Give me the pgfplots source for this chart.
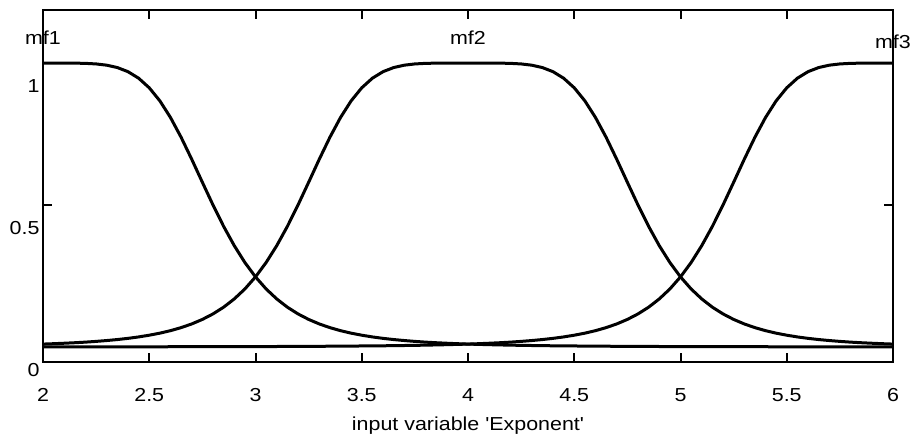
\documentclass[border=0pt]{standalone}
\usepackage{fontspec}
\setmainfont{Liberation Sans}
\usepackage{pgfplots}
\pgfplotsset{compat=1.18}
\newcommand\sx[1]{\scalebox{1.14}[1]{#1}}
\newcommand\lfont{\fontsize{18.8}{20}\selectfont}
\begin{document}
\begin{tikzpicture}
\begin{axis}[name=ax,
  scale only axis, width=850pt, height=352pt,
  xmin=2, xmax=6, ymin=-0.053, ymax=1.187,
  clip=false,
  axis line style={line width=2.8pt, black},
  xtick={2,2.5,3,3.5,4,4.5,5,5.5,6},
  xticklabels={\sx{2},\sx{2.5},\sx{3},\sx{3.5},\sx{4},\sx{4.5},\sx{5},\sx{5.5},\sx{6}},
  ytick={0,0.5,1},
  yticklabels={\sx{0},\sx{0.5},\sx{1}},
  tick align=inside, major tick length=9pt,
  every tick/.style={line width=2pt, black},
  every tick label/.append style={font=\lfont},
  xticklabel style={yshift=-23pt},
  yticklabel style={yshift=-23pt},
  xlabel={\sx{input variable \textquotesingle Exponent\textquotesingle}},
  xlabel style={font=\lfont, at={(axis description cs:0.5,0)}, anchor=center, yshift=-64pt},
]
\addplot[black, line width=3pt] coordinates {(2.00,1.0000)(2.05,1.0000)(2.10,1.0000)(2.15,0.9998)(2.20,0.9990)(2.25,0.9970)(2.30,0.9926)(2.35,0.9842)(2.40,0.9697)(2.45,0.9467)(2.50,0.9129)(2.55,0.8669)(2.60,0.8082)(2.65,0.7385)(2.70,0.6610)(2.75,0.5800)(2.80,0.5000)(2.85,0.4248)(2.90,0.3569)(2.95,0.2975)(3.00,0.2468)(3.05,0.2043)(3.10,0.1691)(3.15,0.1401)(3.20,0.1164)(3.25,0.0970)(3.30,0.0811)(3.35,0.0681)(3.40,0.0574)(3.45,0.0486)(3.50,0.0414)(3.55,0.0353)(3.60,0.0303)(3.65,0.0261)(3.70,0.0226)(3.75,0.0196)(3.80,0.0170)(3.85,0.0149)(3.90,0.0131)(3.95,0.0115)(4.00,0.0101)(4.10,0.0080)(4.20,0.0063)(4.30,0.0051)(4.40,0.0041)(4.60,0.0028)(4.80,0.0019)(5.00,0.0013)(5.50,0.0006)(6.00,0.0003)};
\addplot[black, line width=3pt] coordinates {(2.00,0.0101)(2.05,0.0115)(2.10,0.0131)(2.15,0.0149)(2.20,0.0170)(2.25,0.0196)(2.30,0.0226)(2.35,0.0261)(2.40,0.0303)(2.45,0.0353)(2.50,0.0414)(2.55,0.0486)(2.60,0.0574)(2.65,0.0681)(2.70,0.0811)(2.75,0.0970)(2.80,0.1164)(2.85,0.1401)(2.90,0.1691)(2.95,0.2043)(3.00,0.2468)(3.05,0.2975)(3.10,0.3569)(3.15,0.4248)(3.20,0.5000)(3.25,0.5800)(3.30,0.6610)(3.35,0.7385)(3.40,0.8082)(3.45,0.8669)(3.50,0.9129)(3.55,0.9467)(3.60,0.9697)(3.65,0.9842)(3.70,0.9926)(3.75,0.9970)(3.80,0.9990)(3.85,0.9998)(3.90,1.0000)(3.95,1.0000)(4.00,1.0000)(4.05,1.0000)(4.10,1.0000)(4.15,0.9998)(4.20,0.9990)(4.25,0.9970)(4.30,0.9926)(4.35,0.9842)(4.40,0.9697)(4.45,0.9467)(4.50,0.9129)(4.55,0.8669)(4.60,0.8082)(4.65,0.7385)(4.70,0.6610)(4.75,0.5800)(4.80,0.5000)(4.85,0.4248)(4.90,0.3569)(4.95,0.2975)(5.00,0.2468)(5.05,0.2043)(5.10,0.1691)(5.15,0.1401)(5.20,0.1164)(5.25,0.0970)(5.30,0.0811)(5.35,0.0681)(5.40,0.0574)(5.45,0.0486)(5.50,0.0414)(5.55,0.0353)(5.60,0.0303)(5.65,0.0261)(5.70,0.0226)(5.75,0.0196)(5.80,0.0170)(5.85,0.0149)(5.90,0.0131)(5.95,0.0115)(6.00,0.0101)};
\addplot[black, line width=3pt] coordinates {(2.00,0.0003)(2.50,0.0006)(3.00,0.0013)(3.20,0.0019)(3.40,0.0028)(3.60,0.0041)(3.70,0.0051)(3.80,0.0063)(3.90,0.0080)(4.00,0.0101)(4.05,0.0115)(4.10,0.0131)(4.15,0.0149)(4.20,0.0170)(4.25,0.0196)(4.30,0.0226)(4.35,0.0261)(4.40,0.0303)(4.45,0.0353)(4.50,0.0414)(4.55,0.0486)(4.60,0.0574)(4.65,0.0681)(4.70,0.0811)(4.75,0.0970)(4.80,0.1164)(4.85,0.1401)(4.90,0.1691)(4.95,0.2043)(5.00,0.2468)(5.05,0.2975)(5.10,0.3569)(5.15,0.4248)(5.20,0.5000)(5.25,0.5800)(5.30,0.6610)(5.35,0.7385)(5.40,0.8082)(5.45,0.8669)(5.50,0.9129)(5.55,0.9467)(5.60,0.9697)(5.65,0.9842)(5.70,0.9926)(5.75,0.9970)(5.80,0.9990)(5.85,0.9998)(5.90,1.0000)(5.95,1.0000)(6.00,1.0000)};
\node[font=\lfont] at (axis cs:2,1.09) {\sx{mf1}};
\node[font=\lfont] at (axis cs:4,1.09) {\sx{mf2}};
\node[font=\lfont] at (axis cs:6,1.075) {\sx{mf3}};
\end{axis}
\pgfresetboundingbox
\path[use as bounding box] ([shift={(-43pt,-77pt)}]ax.south west) rectangle ([shift={(23pt,10pt)}]ax.north east);
\end{tikzpicture}
\end{document}
